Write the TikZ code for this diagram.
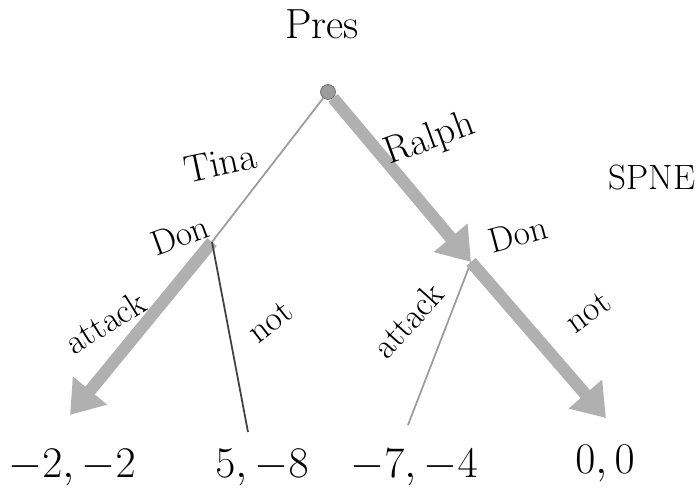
\documentclass[tikz,border=0pt]{standalone}
\usepackage{amsmath,amssymb}
\usepackage{xcolor}
\usepackage{tikz}
\usetikzlibrary{arrows,arrows.meta,positioning,calc}
\definecolor{pencilgray}{HTML}{9C9C9C}
\definecolor{spnegray}{HTML}{B0B0B0}

\begin{document}
\begin{tikzpicture}[x=0.02cm,y=-0.02cm,
  branch/.style={pencilgray, line width=1pt},
  spnearrow/.style={spnegray, line width=7pt, -{Triangle[length=18pt,width=24pt]}},
  lbl/.style={font=\fontsize{20}{22}\selectfont},
  payoff/.style={font=\fontsize{27}{30}\selectfont}]
\useasboundingbox (0,0) rectangle (698,492);
% players and decision points
\node[font=\fontsize{24}{26}\selectfont] (prestxt) at (322,24) {Pres};
\node[circle, draw=black!60, fill=pencilgray, inner sep=3pt] (pres) at (328,92) {};
\coordinate (donL) at (212,242);
\coordinate (donR) at (471,262);
\node[lbl, rotate=20] (donLtxt) at (180,235) {Don};
\node[lbl, rotate=15] (donRtxt) at (518,234) {Don};
% ends of branches
\coordinate (endLA) at (70,415);
\coordinate (endLN) at (248,432);
\coordinate (endRA) at (408,425);
\coordinate (endRN) at (606,418);
\node[payoff] (payLA) at (72,468) {$-2,-2$};
\node[payoff] (payLN) at (262,468) {$5,-8$};
\node[payoff] (payRA) at (414,468) {$-7,-4$};
\node[payoff] (payRN) at (605,464) {$0,0$};
% branches
\draw[branch] (pres) -- (donL);
\draw[spnearrow] (pres) -- (donR);
\draw[spnearrow] (donL) -- (endLA);
\draw[black!75, line width=1pt] (donL) -- (endLN);
\draw[branch] (donR) -- (endRA);
\draw[spnearrow] (donR) -- (endRN);
% labels
\node[font=\fontsize{22}{24}\selectfont, rotate=12] (tina) at (220,163) {Tina};
\node[font=\fontsize{22}{24}\selectfont, rotate=20] (ralph) at (430,140) {Ralph};
\node[lbl, rotate=32] (attL) at (105,322) {attack};
\node[lbl, rotate=38] (notL) at (270,322) {not};
\node[lbl, rotate=48] (attR) at (408,320) {attack};
\node[lbl, rotate=36] (notR) at (588,312) {not};
\node[lbl] (spne) at (652,178) {SPNE};
\end{tikzpicture}
\end{document}
